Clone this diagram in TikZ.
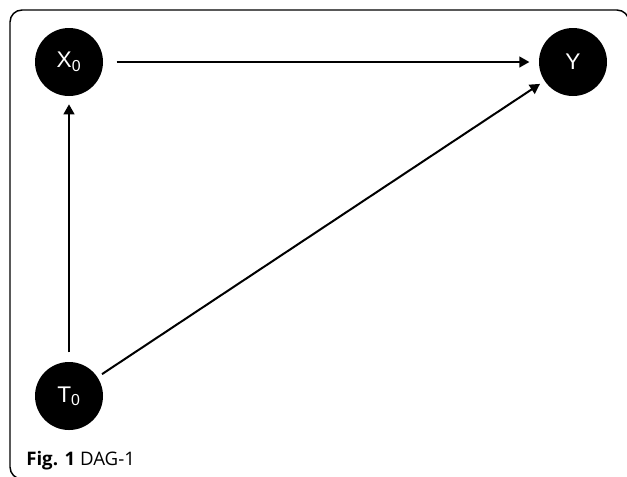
\documentclass[tikz,border=0pt]{standalone}
\usepackage{fontspec}
\setmainfont{Open Sans}
\newfontfamily\nodefont{Liberation Sans}
\usetikzlibrary{arrows.meta}
\begin{document}
\begin{tikzpicture}[x=0.75pt,y=-0.75pt,
  var/.style={circle,fill=black,minimum size=51pt,inner sep=0pt,text=white,font=\nodefont\fontsize{17}{19}\selectfont},
  edge/.style={line width=1.5pt,-{Triangle[length=7.5pt,width=8pt]}},
  frame/.style={line width=1.1pt,rounded corners=9pt}]
\useasboundingbox (0,0) rectangle (627,476);
\draw[frame] (60,479) -- (10,479) -- (10,10) -- (629,10) -- (629,60);
\node[var] (X) at (69,62) {X\textsubscript{0}};
\node[var] (Y) at (573,62) {Y};
\node[var] (T) at (69,396) {T\textsubscript{0}};
\draw[edge,shorten <=10pt,shorten >=7pt] (X) -- (Y);
\draw[edge,shorten <=7pt,shorten >=6pt] (T) -- (X);
\draw[edge,shorten <=4pt,shorten >=4pt] (T) -- (Y);
\node[anchor=base west,inner sep=0pt,font=\fontsize{14}{16}\selectfont] (cap) at (26,465) {\textbf{Fig. 1} DAG-1};
\end{tikzpicture}
\end{document}
